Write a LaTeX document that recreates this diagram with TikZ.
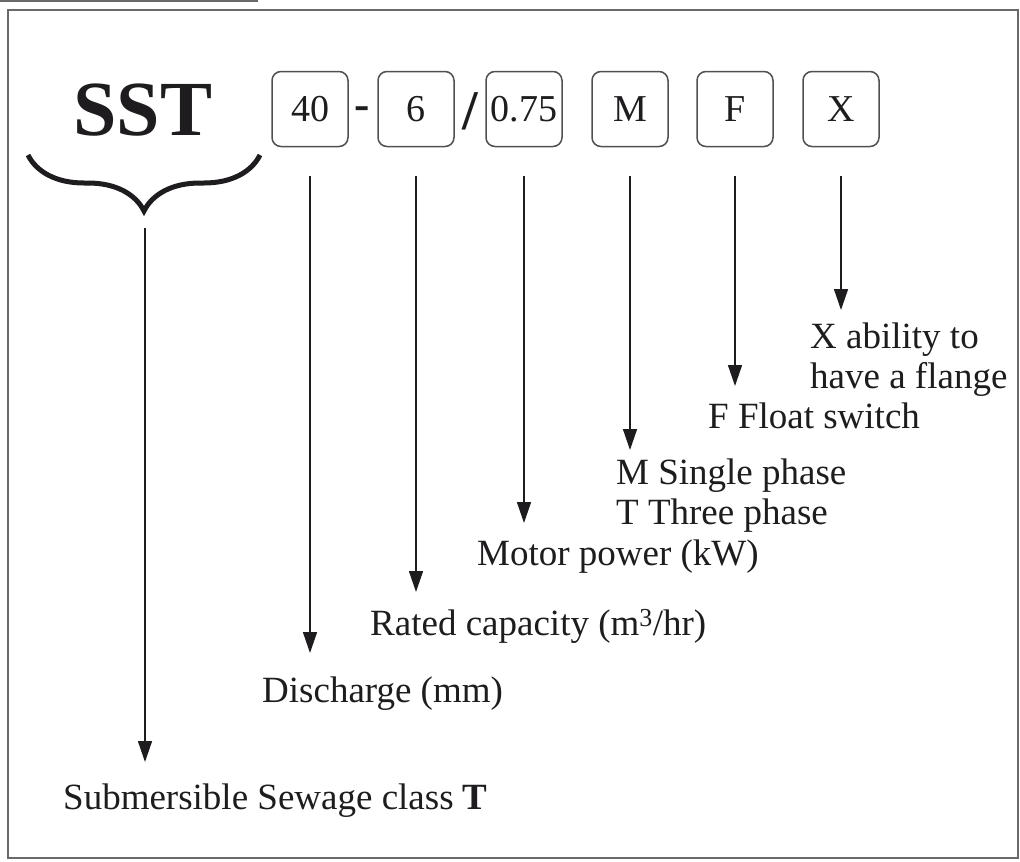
\documentclass[tikz,border=0pt]{standalone}
\usepackage{fontspec}
\setmainfont{Liberation Serif}
\usetikzlibrary{arrows.meta, decorations.pathreplacing, calc}
\definecolor{framegray}{RGB}{105,105,105}
\definecolor{boxgray}{RGB}{80,80,80}
\definecolor{inkblack}{RGB}{30,28,30}
\tikzset{
  codebox/.style={rectangle, draw=boxgray, line width=1.5pt, rounded corners=9pt, minimum width=76pt, minimum height=75pt, inner sep=0pt, text=inkblack, font=\fontsize{38}{40}\selectfont},
  sep/.style={inner sep=0pt, text=inkblack},
  desc/.style={anchor=north west, inner sep=0pt, align=left, text=inkblack, font=\fontsize{37}{40}\selectfont},
  pointer/.style={-{Triangle[length=21pt,width=14pt]}, line width=1.5pt, draw=inkblack, shorten <=29pt, shorten >=17pt}
}

\begin{document}
\begin{tikzpicture}[x=1pt, y=-1pt]
  \useasboundingbox (0,0) rectangle (1020,862);
  % outer frame
  \draw[framegray, line width=1.2pt] (0,1) -- (258,1);
  \draw[framegray, line width=2pt] (8,10) rectangle (1018,858);

  % type code
  \node[sep, font=\fontsize{78}{80}\selectfont\bfseries] (sst) at (143,110) {SST};
  \node[codebox] (n40) at (310,109) {40};
  \node[sep, anchor=base, font=\fontsize{46}{46}\selectfont\bfseries] (dash) at (362,119) {-};
  \node[codebox] (n6) at (416,109) {6};
  \node[sep, font=\fontsize{56}{56}\selectfont\bfseries] (slash) at (470,111) {/};
  \node[codebox] (n075) at (524,109) {0.75};
  \node[codebox] (nM) at (630,109) {M};
  \node[codebox] (nF) at (735,109) {F};
  \node[codebox] (nX) at (841,109) {X};

  % brace under SST
  \coordinate (braceleft) at (28,155);
  \coordinate (braceright) at (260,155);
  \coordinate (bracetip) at (145,212);
  \draw[inkblack, line width=5pt, decorate, decoration={brace, mirror, amplitude=56pt}] (braceleft) -- (braceright);

  % descriptions
  \node[desc] (flange) at (810,323) {X ability to\\have a flange};
  \node[desc] (float) at (708,403) {F Float switch};
  \node[desc] (phase) at (616,459) {M Single phase\\T Three phase};
  \node[desc] (power) at (477,540) {Motor power (kW)};
  \node[desc] (capacity) at (370,609) {Rated capacity (m\textsuperscript{3}/hr)};
  \node[desc] (discharge) at (262,677) {Discharge (mm)};
  \node[desc] (series) at (63,784) {Submersible Sewage class \textbf{T}};

  % arrows
  \draw[pointer, shorten <=16pt, shorten >=22pt] (bracetip) -- (bracetip |- series.north);
  \draw[pointer, shorten >=24pt] (n40.south) -- (n40.south |- discharge.north);
  \draw[pointer] (n6.south) -- (n6.south |- capacity.north);
  \draw[pointer] (n075.south) -- (n075.south |- power.north);
  \draw[pointer, shorten >=9pt] (nM.south) -- (nM.south |- phase.north);
  \draw[pointer] (nF.south) -- (nF.south |- float.north);
  \draw[pointer, shorten >=13pt] (nX.south) -- (nX.south |- flange.north);
\end{tikzpicture}
\end{document}
